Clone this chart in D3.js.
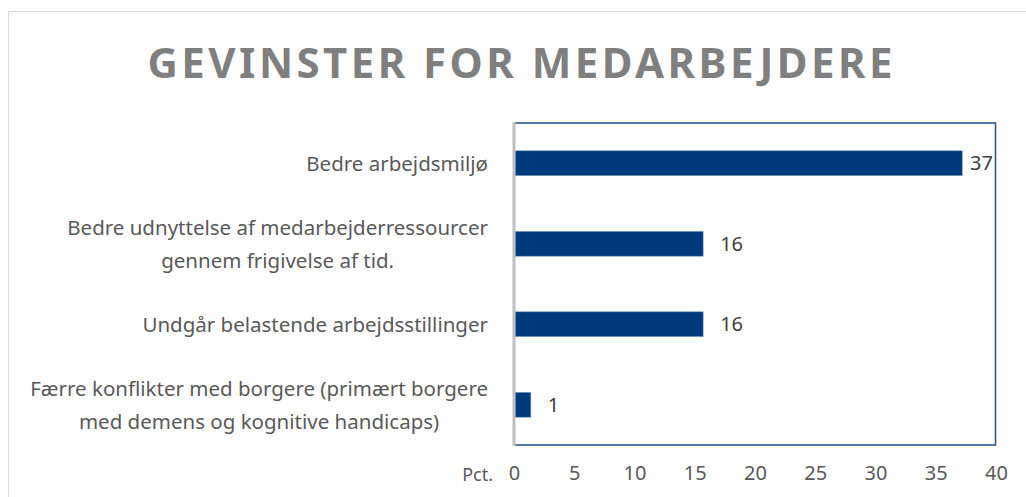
<!DOCTYPE html>
<html>
<head>
  <meta charset="utf-8" />
  <title>Gevinster for medarbejdere</title>
  <script src="https://d3js.org/d3.v7.min.js"></script>
  <style>
    body { margin: 0; background: #fff; }
    svg { display: block; font-family: "Noto Sans", "Open Sans", sans-serif; }
  </style>
</head>
<body>
  <div id="chart"></div>
  <script>
    const title = "GEVINSTER FOR MEDARBEJDERE";
    const categories = [
      "Bedre arbejdsmiljø",
      "Bedre udnyttelse af medarbejderressourcer|gennem frigivelse af tid.",
      "Undgår belastende arbejdsstillinger",
      "Færre konflikter med borgere (primært borgere|med demens og kognitive handicaps)"
    ];
    const values = [37.2, 15.7, 15.7, 1.4];
    const valueLabels = ["37", "16", "16", "1"];
    const ticks = [0, 5, 10, 15, 20, 25, 30, 35, 40];
    const unitLabel = "Pct.";

    const width = 1026, height = 497;
    const plot = { left: 514, right: 996, top: 123, bottom: 445 };

    const svg = d3.select("#chart").append("svg")
      .attr("width", width)
      .attr("height", height);

    // outer chart frame
    svg.append("rect")
      .attr("x", 8.5).attr("y", 11.5)
      .attr("width", 1040).attr("height", 520)
      .attr("fill", "none")
      .attr("stroke", "#d9d9d9");

    // title, squeezed to the width it has in the original
    const t = svg.append("text")
      .attr("x", 520).attr("y", 78)
      .attr("text-anchor", "middle")
      .attr("font-weight", "bold")
      .attr("fill", "#7f7f7f")
      .text(title);
    let fs = 46;
    t.attr("font-size", fs);
    while (t.node().getComputedTextLength() > 665 && fs > 20) {
      fs -= 1;
      t.attr("font-size", fs);
    }
    t.attr("textLength", 745).attr("lengthAdjust", "spacing");

    const x = d3.scaleLinear().domain([0, 40]).range([plot.left, plot.right]);
    const y = d3.scaleBand().domain(categories)
      .range([plot.top, plot.bottom])
      .paddingInner(0.69).paddingOuter(0.345);

    // plot frame
    svg.append("rect")
      .attr("x", plot.left).attr("y", plot.top)
      .attr("width", plot.right - plot.left - 0.5)
      .attr("height", plot.bottom - plot.top)
      .attr("fill", "none")
      .attr("stroke", "#1f4e8c")
      .attr("stroke-width", 1.5);

    svg.selectAll(".bar")
      .data(values)
      .enter().append("rect")
      .attr("class", "bar")
      .attr("x", x(0) + 1)
      .attr("y", (d, i) => y(categories[i]))
      .attr("width", d => x(d) - x(0) - 1)
      .attr("height", y.bandwidth())
      .attr("fill", "#003a7a")
      .attr("stroke", "#8fa6c6")
      .attr("stroke-width", 0.6);

    // left axis line
    svg.append("line")
      .attr("x1", plot.left).attr("x2", plot.left)
      .attr("y1", plot.top - 1).attr("y2", plot.bottom + 1)
      .attr("stroke", "#bfbfbf")
      .attr("stroke-width", 3);

    // value labels
    svg.selectAll(".val")
      .data(values)
      .enter().append("text")
      .attr("class", "val")
      .attr("y", (d, i) => y(categories[i]) + y.bandwidth() / 2)
      .attr("dy", "0.36em")
      .attr("font-size", 20)
      .attr("fill", "#404040")
      .text((d, i) => valueLabels[i])
      .attr("x", function (d) {
        const w = this.getComputedTextLength();
        return Math.min(x(d) + 17, plot.right - w - 3);
      });

    // category labels, lines centred in a block that ends at the axis
    categories.forEach(function (c) {
      const lines = c.split("|");
      const cy = y(c) + y.bandwidth() / 2;
      const g = svg.append("g");
      const texts = lines.map((ln, j) => g.append("text")
        .attr("font-size", 20.5)
        .attr("fill", "#595959")
        .attr("text-anchor", "middle")
        .attr("y", cy + (j - (lines.length - 1) / 2) * 33)
        .attr("dy", "0.36em")
        .text(ln));
      const blockW = d3.max(texts, s => s.node().getComputedTextLength());
      texts.forEach(s => s.attr("x", 488 - blockW / 2));
    });

    // x axis tick labels
    const xAxis = d3.axisBottom(x).tickValues(ticks).tickSize(0).tickPadding(0);
    const ax = svg.append("g")
      .attr("transform", `translate(0,${plot.bottom + 21})`)
      .call(xAxis);
    ax.select(".domain").remove();
    ax.selectAll("text")
      .attr("font-size", 20)
      .attr("font-family", "Noto Sans, sans-serif")
      .attr("fill", "#595959");

    svg.append("text")
      .attr("x", 493).attr("y", 475)
      .attr("dy", "0.36em")
      .attr("text-anchor", "end")
      .attr("font-size", 18)
      .attr("fill", "#595959")
      .text(unitLabel);
  </script>
</body>
</html>
